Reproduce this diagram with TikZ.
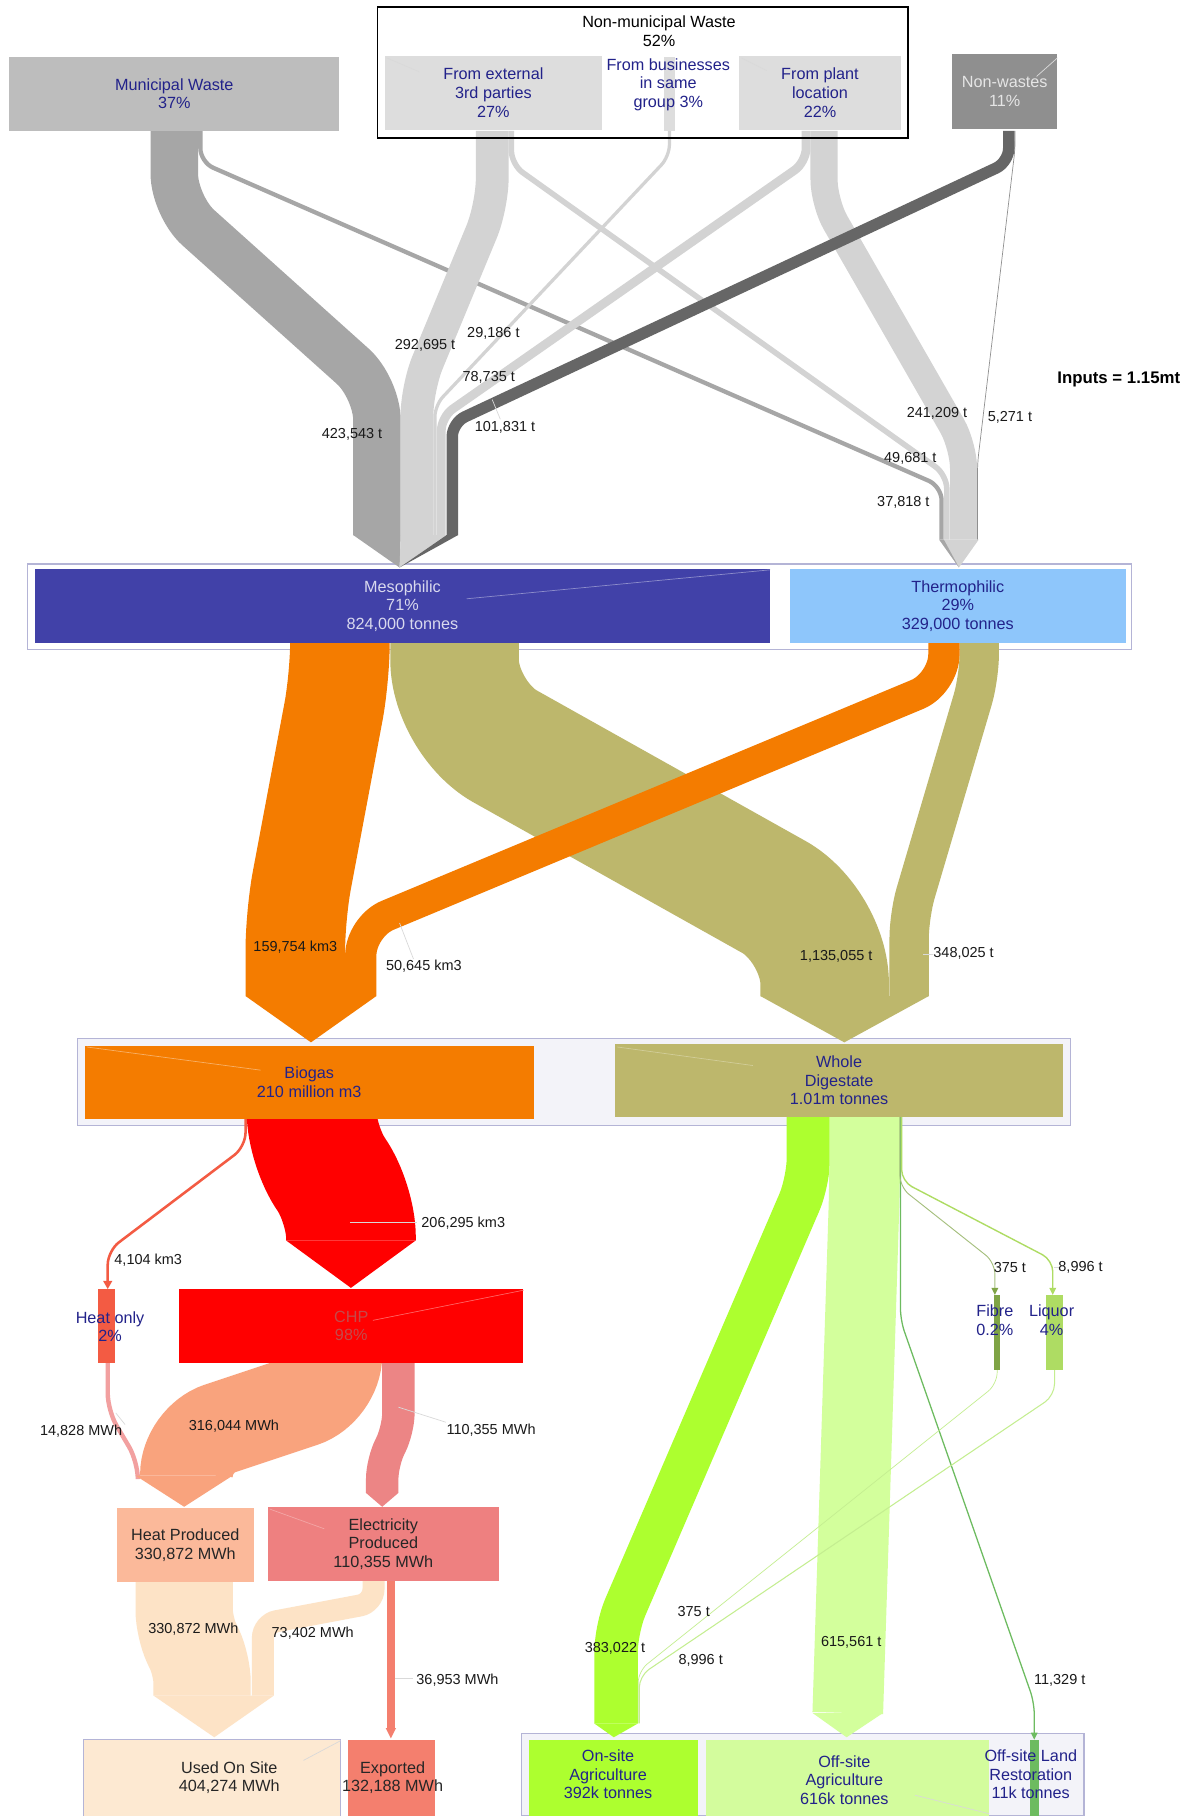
\documentclass[tikz,border=0pt]{standalone}
\usepackage{fontspec}
\setmainfont{Liberation Sans}

% colours of nodes and flows
\definecolor{navy}{HTML}{22228A}
\definecolor{framec}{HTML}{B4B4D6}
\definecolor{framefill}{HTML}{F3F3F9}
\definecolor{muni}{HTML}{BDBDBD}
\definecolor{muniflow}{HTML}{A6A6A6}
\definecolor{nonmuni}{HTML}{DDDDDD}
\definecolor{nonmuniflow}{HTML}{D3D3D3}
\definecolor{nonwaste}{HTML}{8F8F8F}
\definecolor{nonwasteflow}{HTML}{666666}
\definecolor{meso}{HTML}{4141A8}
\definecolor{thermo}{HTML}{8EC6FB}
\definecolor{biogas}{HTML}{F47C00}
\definecolor{digest}{HTML}{BDB76C}
\definecolor{chp}{HTML}{FF0000}
\definecolor{chptext}{HTML}{C44A4A}
\definecolor{heatonly}{HTML}{F35B43}
\definecolor{heatthin}{HTML}{F2A0A0}
\definecolor{heatflow}{HTML}{F9A37D}
\definecolor{heatprod}{HTML}{FBB99A}
\definecolor{elec}{HTML}{EE8080}
\definecolor{elecflow}{HTML}{EC8585}
\definecolor{usedflow}{HTML}{FDE3C6}
\definecolor{used}{HTML}{FDE9D2}
\definecolor{export}{HTML}{F47F6E}
\definecolor{onsite}{HTML}{ADFF2F}
\definecolor{offsite}{HTML}{D3FC9D}
\definecolor{offsiteflow}{HTML}{D3FF9C}
\definecolor{land}{HTML}{6DBB60}
\definecolor{fibre}{HTML}{7FA445}
\definecolor{liquor}{HTML}{AEDC63}
\definecolor{paleline}{HTML}{C4EE90}

\begin{document}
\begin{tikzpicture}[x=1pt,y=-1pt,
  box/.style={inner sep=0pt,minimum height=64pt,align=center,text=navy,
    font=\fontsize{14}{16}\selectfont},
  txt/.style={inner sep=0pt,align=center,text=navy,font=\fontsize{14}{16}\selectfont},
  lbl/.style={inner sep=0pt,text=black!90,font=\fontsize{12.5}{15}\selectfont},
  band/.style={line width=#1},
  frame/.style={draw=framec,line width=1pt,inner sep=0pt},
  leader/.style={draw=black!15,line width=0.6pt}]

  \fill[white] (0,0) rectangle (1034,1568);
  \useasboundingbox (0,0) rectangle (1034,1568);

  % frames round the groups
  \node[frame,minimum width=953pt,minimum height=74pt] (digesters) at (500.5,524) {};
  \node[frame,fill=framefill,minimum width=857pt,minimum height=75pt] (products) at (495.5,934.5) {};
  \node[frame,fill=framefill,minimum width=486pt,minimum height=71pt] (uses) at (693,1532.5) {};

  % inputs -> digesters
  \draw[band=3.7,muniflow,rounded corners=12pt] (173,113) -- (173,140) -- (813,420) -- (813,466);
  \draw[band=4.8,nonmuniflow,rounded corners=12pt] (441.5,113) -- (441.5,142) -- (817.5,410) -- (817.5,466);
  \draw[band=23.4,nonmuniflow,rounded corners=20pt] (711.5,113) -- (711.5,175) -- (832,385) -- (832,466);
  \draw[band=0.6,nonwaste,rounded corners=8pt] (876.5,113) -- (876.5,128) -- (844,400) -- (844,466);
  \draw[band=41,muniflow,rounded corners=28pt] (150.5,113) -- (150.5,178) -- (325.5,335) -- (325.5,462);
  \draw[band=28.3,nonmuniflow,rounded corners=24pt] (425,113) -- (425,178) -- (360,335) -- (360,462);
  \draw[band=2.8,nonmuniflow,rounded corners=10pt] (578,113) -- (578,135) -- (375.5,350) -- (375.5,462);
  \draw[band=7.6,nonmuniflow,rounded corners=12pt] (696,113) -- (696,140) -- (381,360) -- (381,462);
  \draw[band=9.9,nonwasteflow,rounded corners=12pt] (871,113) -- (871,140) -- (390.5,365) -- (390.5,462);
  \fill[muniflow] (305,462) -- (346,462) -- (345,490) -- cycle;
  \fill[nonmuniflow] (346,462) -- (385,462) -- (345,490) -- cycle;
  \fill[nonwasteflow] (385.5,462) -- (395.5,462) -- (345,490) -- cycle;
  \fill[nonmuniflow] (811,466) -- (845,466) -- (828,490) -- cycle;
  \fill[muniflow] (811,466) -- (815,466) -- (828,490) -- cycle;

  % digesters -> biogas and digestate
  \draw[band=111,digest,rounded corners=50pt] (392.5,530) -- (392.5,620) -- (712,799) -- (712,860);
  \draw[band=34,digest,rounded corners=20pt] (845.5,530) -- (845.5,585) -- (785,790) -- (785,860);
  \draw[band=86,biogas,rounded corners=30pt] (293.5,530) -- (293.5,585) -- (255,790) -- (255,860);
  \draw[band=27,biogas,rounded corners=25pt] (815,530) -- (815,590) -- (311.5,800) -- (311.5,860);
  \fill[digest] (656.5,860) -- (802,860) -- (729,900) -- cycle;
  \fill[biogas] (212,860) -- (325,860) -- (268.5,900) -- cycle;

  % biogas -> CHP and heat only
  \draw[band=2.2,heatonly,rounded corners=12pt] (212,950) -- (212,990) -- (93,1080) -- (93,1107);
  \fill[heatonly] (89,1106) -- (97,1106) -- (93,1113) -- cycle;
  \draw[band=112,chp,rounded corners=30pt] (269,950) -- (269,990) -- (303,1038) -- (303,1071);
  \fill[chp] (247,1071) -- (359,1071) -- (303,1112) -- cycle;

  % energy
  \draw[band=3.8,heatthin,rounded corners=15pt] (93,1170) -- (93,1218) -- (119,1262) -- (119,1274);
  \draw[band=80,heatflow,rounded corners=30pt] (290,1160) -- (290,1200) -- (161,1243) -- (161,1274);
  \fill[heatflow] (117,1274) -- (201,1274) -- (159,1301) -- cycle;
  \draw[band=28,elecflow,rounded corners=15pt] (344,1160) -- (344,1235) -- (330,1262) -- (330,1289);
  \fill[elecflow] (316,1289) -- (344,1289) -- (330,1301) -- cycle;
  \draw[band=84,usedflow,rounded corners=15pt] (159,1350) -- (159,1405) -- (174.5,1438) -- (174.5,1464);
  \draw[band=19,usedflow,rounded corners=12pt] (322.5,1350) -- (322.5,1384) -- (227,1402) -- (227,1464);
  \fill[usedflow] (132.5,1464) -- (236.5,1464) -- (185,1500) -- cycle;
  \draw[band=7.5,export,line cap=round] (337.5,1350) -- (337.5,1492);
  \fill[export] (333,1492) -- (342,1492) -- (337.5,1501) -- cycle;

  % digestate -> uses
  \draw[band=37.5,onsite,rounded corners=20pt] (698,950) -- (698,1020) -- (532,1406) -- (532,1488);
  \fill[onsite] (513,1488) -- (551,1488) -- (530,1500) -- cycle;
  \draw[band=61,offsiteflow,rounded corners=20pt] (746.5,950) -- (746.5,1025) -- (732,1479);
  \fill[offsiteflow] (701.5,1479) -- (762.5,1479) -- (731,1500) -- cycle;
  \draw[band=1.1,land,rounded corners=10pt] (777.5,950) -- (777.5,1140) -- (893,1470) -- (893,1500);
  \fill[land] (890,1496) -- (896,1496) -- (893,1502) -- cycle;
  \draw[band=0.8,fibre!70,rounded corners=10pt] (777,950) -- (777,1025) -- (859,1090) -- (859,1113);
  \draw[band=1.2,liquor,rounded corners=10pt] (778.5,950) -- (778.5,1020) -- (909,1088) -- (909,1113);
  \fill[fibre] (856,1112) -- (862,1112) -- (859,1118) -- cycle;
  \fill[liquor] (906,1112) -- (912,1112) -- (909,1118) -- cycle;
  \draw[band=0.6,paleline,rounded corners=10pt] (861,1183) -- (861,1195) -- (551,1443) -- (551,1488);
  \draw[band=0.9,paleline,rounded corners=10pt] (910.5,1183) -- (910.5,1205) -- (552,1447) -- (552,1488);

  % input nodes
  \node[box,fill=muni,minimum width=285pt] (muni) at (150.5,81) {Municipal Waste\\37\%};
  \node[box,fill=nonmuni,minimum width=188pt] (extern) at (426,80) {From external\\3rd parties\\27\%};
  \node[box,fill=nonmuni,minimum width=10pt] (group) at (578,81) {};
  \node[txt] (grouptext) at (577,73) {From businesses\\in same\\group 3\%};
  \node[box,fill=nonmuni,minimum width=140pt] (plant) at (708,80) {From plant\\location\\22\%};
  \node[box,fill=nonwaste,text=black!10,minimum width=91pt] (nonwaste) at (867.5,79) {Non-wastes\\11\%};
  \node[draw=black,line width=1.5pt,inner sep=0pt,minimum width=458pt,minimum height=113pt] (nonmuni) at (555,62.5) {};
  \node[txt,text=black] (nonmunitext) at (569,27) {Non-municipal Waste\\52\%};
  \node[inner sep=0pt,font=\fontsize{14.5}{16}\selectfont\bfseries] (inputs) at (966,328) {Inputs = 1.15mt};

  % digesters
  \node[box,fill=meso,text=meso!20,minimum width=635pt] (meso) at (347.5,523) {Mesophilic\\71\%\\824,000 tonnes};
  \node[box,fill=thermo,minimum width=290pt] (thermo) at (827,523) {Thermophilic\\29\%\\329,000 tonnes};

  % products
  \node[box,fill=biogas,minimum width=388pt,minimum height=63pt] (biogas) at (267,934.5) {Biogas\\210 million m3};
  \node[box,fill=digest,minimum width=387pt,minimum height=63pt] (digestate) at (724.5,933) {Whole\\Digestate\\1.01m tonnes};

  % biogas uses
  \node[box,fill=heatonly,minimum width=14.5pt] (heatonly) at (92.25,1145) {};
  \node[txt] (heatonlytext) at (95,1145.5) {Heat only\\2\%};
  \node[box,fill=chp,text=chptext,minimum width=297.5pt] (chp) at (303.25,1145) {CHP\\98\%};
  \node[box,fill=heatprod,text=black!85,minimum width=118pt] (heatprod) at (160,1334) {Heat Produced\\330,872 MWh};
  \node[box,fill=elec,text=black!85,minimum width=200pt] (elec) at (331,1333) {Electricity\\Produced\\110,355 MWh};
  \node[box,fill=used,draw=framec,text=black!85,minimum width=222pt,minimum height=66pt] (used) at (183,1535) {};
  \node[txt,text=black!85] (usedtext) at (198,1535) {Used On Site\\404,274 MWh};
  \node[box,fill=export,minimum width=75pt,minimum height=66pt] (export) at (338,1535) {};
  \node[txt,text=black!85] (exporttext) at (339,1535) {Exported\\132,188 MWh};

  % digestate uses
  \node[box,fill=fibre,minimum width=5.5pt,minimum height=65pt] (fibre) at (861,1150.5) {};
  \node[txt] (fibretext) at (859,1140) {Fibre\\0.2\%};
  \node[box,fill=liquor,minimum width=15pt,minimum height=65pt] (liquor) at (910.5,1150.5) {};
  \node[txt] (liquortext) at (908,1140) {Liquor\\4\%};
  \node[box,fill=onsite,minimum width=146pt,minimum height=66pt] (onsite) at (530,1535) {};
  \node[txt] (onsitetext) at (525,1532) {On-site\\Agriculture\\392k tonnes};
  \node[box,fill=offsite,minimum width=244pt,minimum height=66pt] (offsite) at (732,1535) {};
  \node[txt] (offsitetext) at (729,1537) {Off-site\\Agriculture\\616k tonnes};
  \node[box,fill=land,minimum width=8pt,minimum height=66pt] (land) at (893,1535) {};
  \node[txt] (landtext) at (890,1532) {Off-site Land\\Restoration\\11k tonnes};

  % faint leader lines
  \draw[leader] (334,50) -- (362,62);
  \draw[leader] (640,50) -- (662,61);
  \draw[leader,draw=white!70!nonwaste] (913,50) -- (895,66);
  \draw[leader,draw=meso!60!white] (403,517) -- (665,492);
  \draw[leader,draw=white!40!biogas] (75,904) -- (225,924);
  \draw[leader,draw=white!30!digest] (533,904) -- (650,920);
  \draw[leader,draw=white!40!chp] (322,1140) -- (452,1114);
  \draw[leader,draw=white!30!elec] (233,1303) -- (280,1320);
  \draw[leader] (262,1520) -- (294,1503);
  \draw[leader] (790,1550) -- (854,1566);
  \draw[leader] (425,345) -- (432,362);
  \draw[leader] (345,797) -- (357,828);
  \draw[leader] (797,824) -- (806,824);
  \draw[leader] (302,1055) -- (360,1055);
  \draw[leader] (344,1215) -- (385,1228);
  \draw[leader] (100,1220) -- (108,1230);
  \draw[leader] (341,1449) -- (357,1449);
  \draw[leader] (910,1094) -- (915,1094);

  % flow values
  \node[lbl] (v1) at (304,375) {423,543 t};
  \node[lbl] (v2) at (367,298) {292,695 t};
  \node[lbl] (v3) at (426,288) {29,186 t};
  \node[lbl] (v4) at (422,326) {78,735 t};
  \node[lbl] (v5) at (436,369) {101,831 t};
  \node[lbl] (v6) at (809,357) {241,209 t};
  \node[lbl] (v7) at (872,360) {5,271 t};
  \node[lbl] (v8) at (786,396) {49,681 t};
  \node[lbl] (v9) at (780,434) {37,818 t};
  \node[lbl] (v10) at (255,818) {159,754 km3};
  \node[lbl] (v11) at (366,834) {50,645 km3};
  \node[lbl] (v12) at (722,826) {1,135,055 t};
  \node[lbl] (v13) at (832,823) {348,025 t};
  \node[lbl] (v14) at (400,1056) {206,295 km3};
  \node[lbl] (v15) at (128,1088) {4,104 km3};
  \node[lbl] (v16) at (70,1236) {14,828 MWh};
  \node[lbl] (v17) at (202,1231) {316,044 MWh};
  \node[lbl] (v18) at (424,1235) {110,355 MWh};
  \node[lbl] (v19) at (167,1407) {330,872 MWh};
  \node[lbl] (v20) at (270,1410) {73,402 MWh};
  \node[lbl] (v21) at (395,1451) {36,953 MWh};
  \node[lbl] (v22) at (872,1094) {375 t};
  \node[lbl] (v23) at (933,1094) {8,996 t};
  \node[lbl] (v24) at (599,1391) {375 t};
  \node[lbl] (v25) at (605,1434) {8,996 t};
  \node[lbl] (v26) at (531,1423) {383,022 t};
  \node[lbl] (v27) at (735,1418) {615,561 t};
  \node[lbl] (v28) at (915,1451) {11,329 t};
\end{tikzpicture}
\end{document}
